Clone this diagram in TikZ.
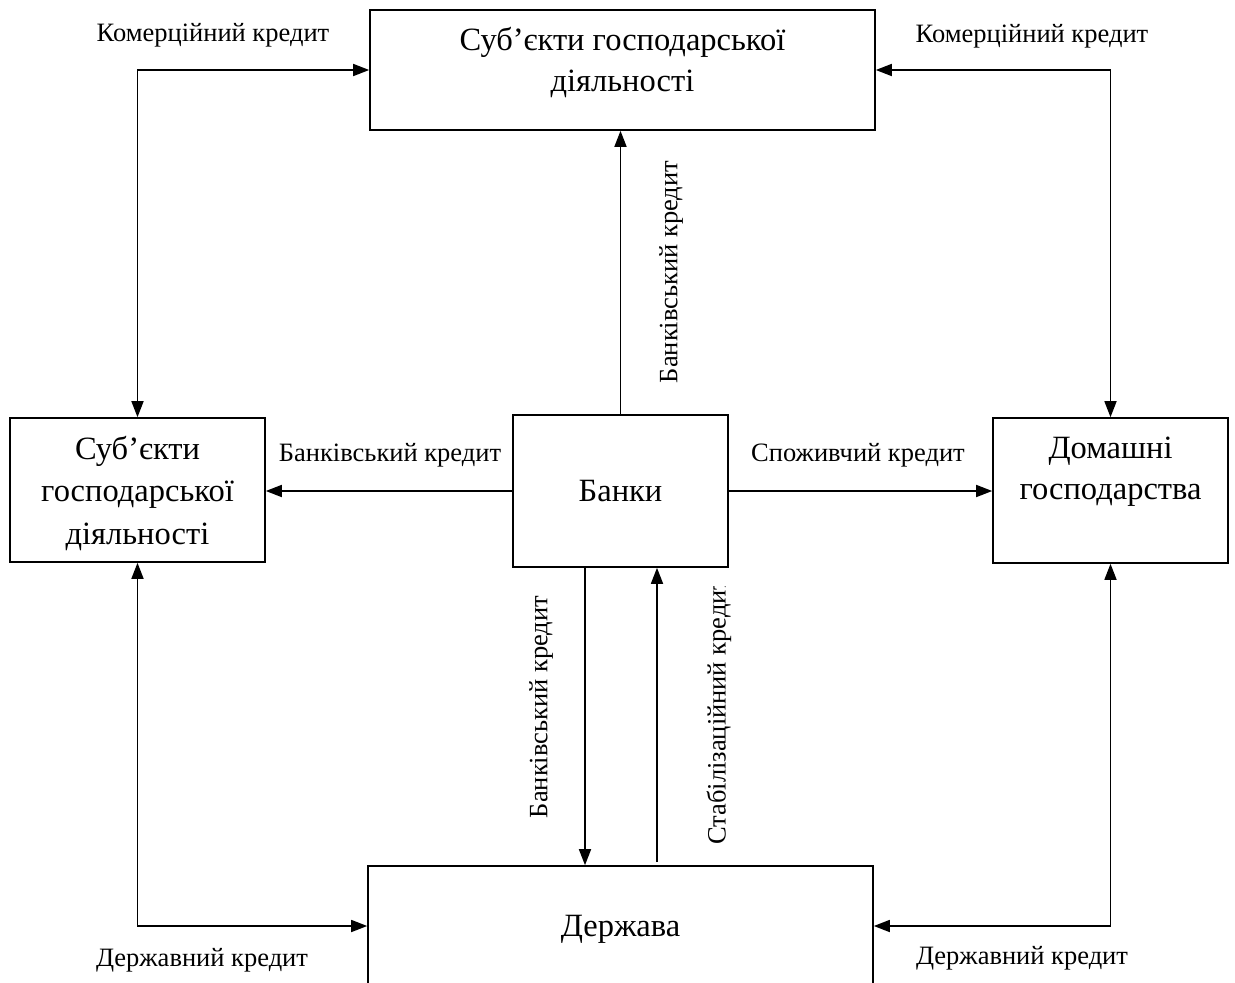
\documentclass[tikz,border=0pt]{standalone}
\usepackage{fontspec}
\setmainfont{Liberation Serif}
\usetikzlibrary{arrows.meta}
\begin{document}
\begin{tikzpicture}[x=1pt,y=-1pt,
    box/.style={draw,line width=1.6pt,align=center,inner sep=0pt,
      font=\fontsize{32.5}{41}\selectfont},
    lbl/.style={inner sep=0pt,font=\fontsize{26.5}{30}\selectfont},
    link/.style={line width=1.6pt,-{Triangle[length=16pt,width=12pt]}},
    both/.style={line width=1.6pt,
      {Triangle[length=16pt,width=12pt]}-{Triangle[length=16pt,width=12pt]}}]
    \useasboundingbox (0,0) rectangle (1235,983);
    \clip (0,0) rectangle (1235,983);
    % boxes
    \node[box,minimum width=505pt,minimum height=120pt,text depth=22pt]
      (subtop) at (622.5,70) {Суб’єкти господарської\\діяльності};
    \node[box,minimum width=255pt,minimum height=144pt,
      font=\fontsize{32.5}{42.5}\selectfont,text depth=-4pt]
      (subleft) at (137.5,490) {Суб’єкти\\господарської\\діяльності};
    \node[box,minimum width=215pt,minimum height=152pt]
      (banks) at (620.5,491) {Банки};
    \node[box,minimum width=235pt,minimum height=145pt,text depth=44pt]
      (homes) at (1110.5,490.5) {Домашні\\господарства};
    \node[box,minimum width=505pt,minimum height=120pt,text depth=-2pt]
      (state) at (620.5,926) {Держава};
    %
    \draw[both] (subleft.north) |- (subtop.west);
    \draw[both] (subtop.east) -| (homes.north);
    \draw[both] (subleft.south) |- (state.west);
    \draw[both] (homes.south) |- (state.east);
    \draw[link] (banks.north) -- (banks.north |- subtop.south);
    \draw[link] (banks.west) -- (banks.west -| subleft.east);
    \draw[link] (banks.east) -- (banks.east -| homes.west);
    \coordinate (bankdown) at (585,567);
    \draw[link] (bankdown) -- (bankdown |- state.north);
    \coordinate (stabup) at (657,862);
    \draw[link] (stabup) -- (stabup |- banks.south);
    %
    \node[lbl] (ktl) at (213,35) {Комерційний кредит};
    \node[lbl] (ktr) at (1032,36) {Комерційний кредит};
    \node[lbl,rotate=90] (bktop) at (671,272) {Банківський кредит};
    \node[lbl] (bkleft) at (390,455) {Банківський кредит};
    \node[lbl] (spr) at (858,455) {Споживчий кредит};
    \node[lbl,rotate=90] (bkdown) at (541,707) {Банківський кредит};
    \begin{scope}
      \clip (690,586) rectangle (750,870);
      \node[lbl,rotate=90,anchor=west] (stab) at (719,845) {Стабілізаційний кредит};
    \end{scope}
    \node[lbl] (dbl) at (202,960) {Державний кредит};
    \node[lbl] (dbr) at (1022,958) {Державний кредит};
\end{tikzpicture}
\end{document}
